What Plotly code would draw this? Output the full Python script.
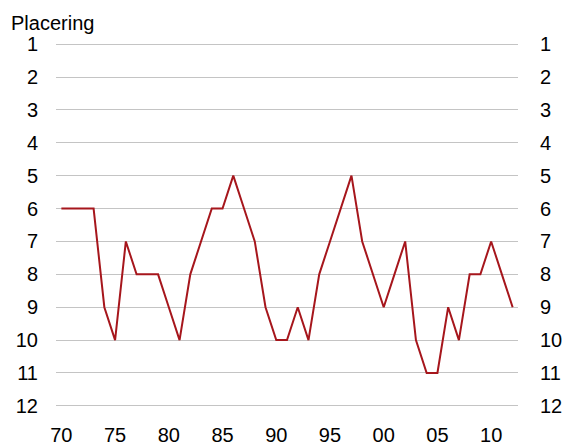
import plotly.graph_objects as go

years = list(range(1970, 2013))
placering = [6, 6, 6, 6, 9, 10, 7, 8, 8, 8,
             9, 10, 8, 7, 6, 6, 5, 6, 7, 9,
             10, 10, 9, 10, 8, 7, 6, 5, 7, 8,
             9, 8, 7, 10, 11, 11, 9, 10, 8, 8,
             7, 8, 9]
tick_years = [1970, 1975, 1980, 1985, 1990, 1995, 2000, 2005, 2010]
tick_text = ["70", "75", "80", "85", "90", "95", "00", "05", "10"]
rank_ticks = list(range(1, 13))

FONT = "Liberation Sans, Arial, sans-serif"
FS = 20
W, H = 565, 444

fig = go.Figure()
fig.add_trace(go.Scatter(x=years, y=placering, mode="lines",
                         line=dict(color="#A6161C", width=2),
                         showlegend=False, hoverinfo="skip"))
# invisible copy on the right axis so that it gets drawn
fig.add_trace(go.Scatter(x=years, y=placering, mode="lines", yaxis="y2",
                         line=dict(color="rgba(0,0,0,0)", width=0),
                         showlegend=False, hoverinfo="skip"))

yr = [12.4, 0.6]
fig.update_layout(
    width=W, height=H,
    margin=dict(l=56, r=47, t=31, b=25),
    paper_bgcolor="white", plot_bgcolor="white",
    font=dict(family=FONT, size=FS, color="black"),
    showlegend=False,
    title=dict(text="Placering", x=11/W, xref="container", xanchor="left",
               y=1-16/H, yref="container", yanchor="top",
               font=dict(family=FONT, size=FS, color="black")),
    xaxis=dict(range=[1969.5, 2012.5], tickvals=tick_years, ticktext=tick_text,
               showgrid=False, zeroline=False, showline=False, ticks="",
               ticklabelstandoff=2, automargin=False),
    yaxis=dict(range=yr, tickvals=rank_ticks, showgrid=True,
               gridcolor="#C4C4C4", gridwidth=1, zeroline=False, showline=False,
               ticks="", ticklabelstandoff=17, automargin=False),
    yaxis2=dict(range=yr, tickvals=rank_ticks, overlaying="y", side="right",
                showgrid=False, zeroline=False, showline=False, ticks="",
                ticklabelstandoff=21, automargin=False),
)
fig.write_html("out.html", config={"displayModeBar": False},
               post_script="document.body.style.margin='0';"
                           "document.body.style.overflow='hidden';")
